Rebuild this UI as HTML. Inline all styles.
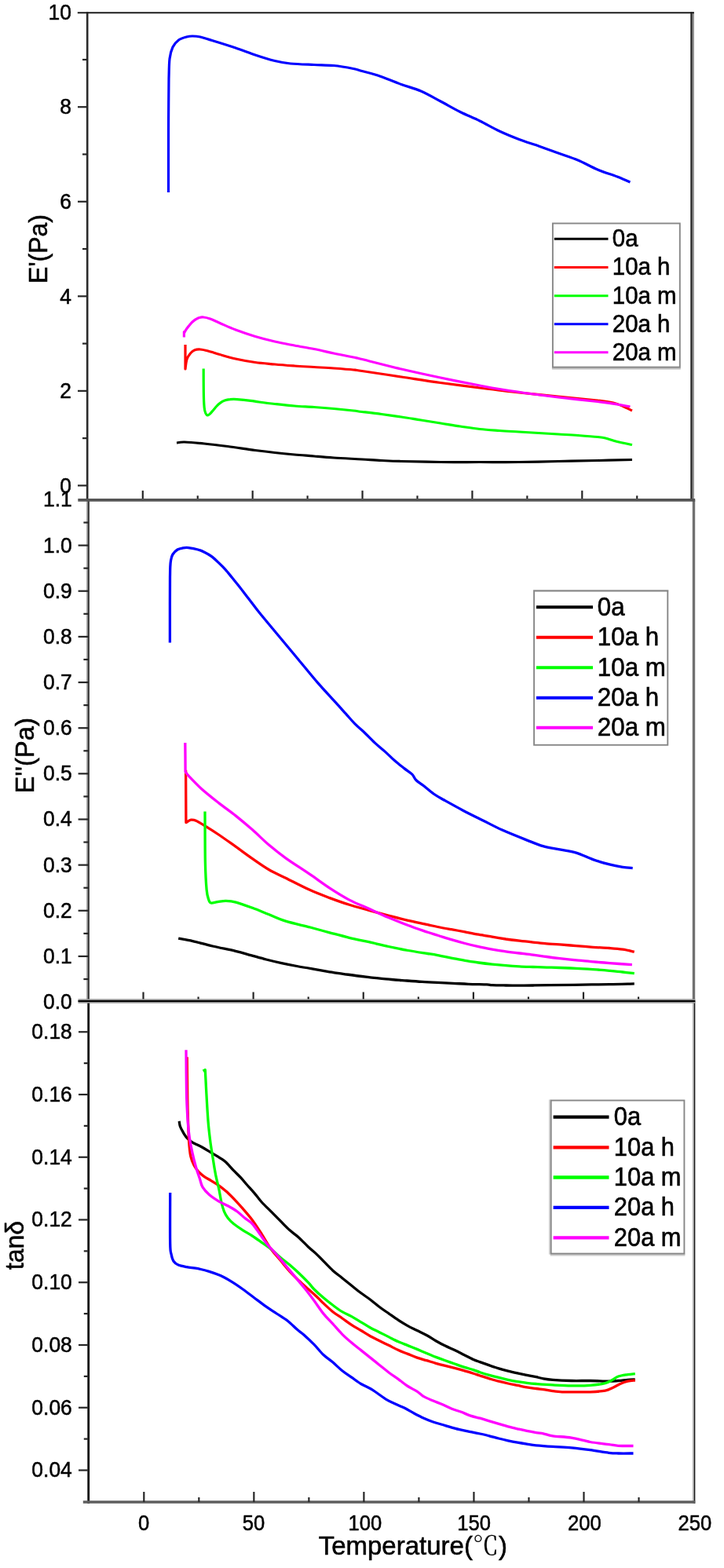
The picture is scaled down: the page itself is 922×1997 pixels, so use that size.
<!DOCTYPE html>
<html lang="en"><head><meta charset="utf-8"><title>DMA curves</title>
<style>html,body{margin:0;padding:0;background:#fff}svg{display:block}</style></head>
<body>
<svg width="922" height="1997" viewBox="0 0 922 1997" font-family="'Liberation Sans', 'Noto Sans CJK SC', sans-serif" fill="#000">
<rect width="922" height="1997" fill="#fff"/>
<path d="M225.0,564.0C226.7,563.8 229.2,562.8 235.0,563.0C240.8,563.2 250.8,564.1 260.0,565.0C269.2,565.9 279.2,567.1 290.0,568.5C300.8,569.9 315.0,572.2 325.0,573.5C335.0,574.8 341.7,575.6 350.0,576.5C358.3,577.4 366.7,578.2 375.0,579.0C383.3,579.8 391.7,580.3 400.0,581.0C408.3,581.7 414.8,582.3 425.0,583.0C435.2,583.7 450.8,584.4 461.0,585.0C471.2,585.6 477.7,586.1 486.0,586.5C494.3,586.9 498.5,587.2 511.0,587.5C523.5,587.8 544.3,588.3 561.0,588.5C577.7,588.7 594.3,588.5 611.0,588.5C627.7,588.5 644.3,588.7 661.0,588.5C677.7,588.3 694.3,587.8 711.0,587.5C727.7,587.2 745.3,586.8 761.0,586.5C776.7,586.2 797.7,585.7 805.0,585.5" fill="none" stroke="#000000" stroke-width="3.2" stroke-linejoin="round" stroke-linecap="butt"/>
<path d="M236.0,439.0C236.0,444.2 236.0,464.8 236.0,470.0L236.0,470.0C236.3,467.9 236.9,460.8 238.0,457.5C239.1,454.2 240.9,451.9 242.5,450.0C244.1,448.1 245.4,446.8 247.5,446.0C249.6,445.2 252.1,444.8 255.0,445.0C257.9,445.2 260.8,445.9 265.0,447.0C269.2,448.1 274.2,449.8 280.0,451.5C285.8,453.2 292.5,455.3 300.0,457.0C307.5,458.7 316.7,460.3 325.0,461.5C333.3,462.7 341.7,463.2 350.0,464.0C358.3,464.8 366.7,465.4 375.0,466.0C383.3,466.6 391.7,467.0 400.0,467.5C408.3,468.0 416.7,468.4 425.0,469.0C433.3,469.6 444.0,470.4 450.0,471.0C456.0,471.6 450.8,471.0 461.0,472.5C471.2,474.0 494.3,477.5 511.0,480.0C527.7,482.5 544.3,485.2 561.0,487.5C577.7,489.8 594.3,491.9 611.0,494.0C627.7,496.1 644.3,498.2 661.0,500.0C677.7,501.8 694.3,503.3 711.0,505.0C727.7,506.7 749.3,508.7 761.0,510.0C772.7,511.3 775.6,511.8 781.0,513.0C786.4,514.2 789.5,515.8 793.5,517.5C797.5,519.2 803.1,522.1 805.0,523.0" fill="none" stroke="#ff0000" stroke-width="3.2" stroke-linejoin="round" stroke-linecap="butt"/>
<path d="M259.2,469.5C259.2,473.8 259.2,487.9 259.3,495.0C259.4,502.1 259.4,507.3 259.7,512.0C259.9,516.7 260.2,520.2 260.8,523.0C261.4,525.8 262.4,527.8 263.3,528.6C264.2,529.4 265.1,528.8 266.3,528.0C267.5,527.2 268.9,525.4 270.5,523.6C272.1,521.9 274.0,519.3 275.7,517.5C277.4,515.7 279.1,514.1 280.9,512.9C282.6,511.7 284.2,510.8 286.2,510.1C288.2,509.4 290.5,508.9 293.1,508.7C295.7,508.4 297.5,508.3 301.8,508.6C306.1,508.9 314.4,509.7 319.1,510.3C323.8,510.9 324.9,511.3 330.0,512.0C335.1,512.7 342.5,513.7 350.0,514.5C357.5,515.3 366.7,516.3 375.0,517.0C383.3,517.7 391.7,517.9 400.0,518.5C408.3,519.1 416.7,519.8 425.0,520.5C433.3,521.2 444.0,522.3 450.0,523.0C456.0,523.7 455.0,523.8 461.0,524.5C467.0,525.2 477.7,526.4 486.0,527.5C494.3,528.6 502.7,529.8 511.0,531.0C519.3,532.2 527.7,533.7 536.0,535.0C544.3,536.3 552.7,537.7 561.0,539.0C569.3,540.3 577.7,541.8 586.0,543.0C594.3,544.2 602.7,545.6 611.0,546.5C619.3,547.4 627.7,547.9 636.0,548.5C644.3,549.1 652.7,549.5 661.0,550.0C669.3,550.5 677.7,551.0 686.0,551.5C694.3,552.0 702.7,552.5 711.0,553.0C719.3,553.5 727.7,553.9 736.0,554.5C744.3,555.1 755.2,555.9 761.0,556.5C766.8,557.1 766.8,557.0 771.0,558.0C775.2,559.0 780.3,561.1 786.0,562.5C791.7,563.9 801.8,565.8 805.0,566.5" fill="none" stroke="#00ff00" stroke-width="3.2" stroke-linejoin="round" stroke-linecap="butt"/>
<path d="M214.5,245.0C214.5,237.5 214.5,215.8 214.5,200.0C214.5,184.2 214.5,166.7 214.6,150.0C214.7,133.3 214.9,108.3 215.0,100.0L215.0,100.0C215.2,95.8 215.2,81.7 216.0,75.0C216.8,68.3 218.1,64.0 220.0,60.0C221.9,56.0 224.6,53.2 227.5,51.0C230.4,48.8 234.6,47.8 237.5,47.0C240.4,46.2 242.1,46.0 245.0,46.0C247.9,46.0 250.8,46.1 255.0,47.0C259.2,47.9 262.5,49.2 270.0,51.5C277.5,53.8 290.8,57.9 300.0,61.0C309.2,64.1 316.7,67.2 325.0,70.0C333.3,72.8 342.5,75.7 350.0,77.5C357.5,79.3 361.7,80.2 370.0,81.0C378.3,81.8 390.8,82.1 400.0,82.5C409.2,82.9 416.7,82.7 425.0,83.5C433.3,84.3 444.0,86.3 450.0,87.5C456.0,88.7 455.8,89.1 461.0,90.5C466.2,91.9 472.7,93.2 481.0,96.0C489.3,98.8 501.8,104.2 511.0,107.5C520.2,110.8 527.7,112.4 536.0,116.0C544.3,119.6 552.7,124.6 561.0,129.0C569.3,133.4 577.7,138.3 586.0,142.5C594.3,146.7 602.7,149.9 611.0,154.0C619.3,158.1 627.7,163.1 636.0,167.0C644.3,170.9 652.7,174.3 661.0,177.5C669.3,180.7 677.7,183.1 686.0,186.0C694.3,188.9 702.7,192.0 711.0,195.0C719.3,198.0 727.7,200.5 736.0,204.0C744.3,207.5 752.7,212.5 761.0,216.0C769.3,219.5 779.1,222.3 786.0,225.0C792.9,227.7 799.8,230.8 802.5,232.0" fill="none" stroke="#0000ff" stroke-width="3.2" stroke-linejoin="round" stroke-linecap="butt"/>
<path d="M234.4,429.5C234.4,428.3 234.4,423.7 234.4,422.5L234.4,424.5C234.9,423.6 235.7,421.4 237.5,419.0C239.3,416.6 242.5,412.3 245.0,410.0C247.5,407.7 250.2,406.0 252.5,405.0C254.8,404.0 256.5,403.8 259.0,404.0C261.5,404.2 264.0,404.8 267.5,406.0C271.0,407.2 274.6,409.2 280.0,411.5C285.4,413.8 292.5,417.2 300.0,420.0C307.5,422.8 316.7,426.0 325.0,428.5C333.3,431.0 341.7,433.1 350.0,435.0C358.3,436.9 366.7,438.4 375.0,440.0C383.3,441.6 391.7,442.8 400.0,444.5C408.3,446.2 416.7,448.2 425.0,450.0C433.3,451.8 444.0,453.8 450.0,455.0C456.0,456.2 450.8,455.0 461.0,457.5C471.2,460.0 494.3,466.1 511.0,470.0C527.7,473.9 544.3,477.5 561.0,481.0C577.7,484.5 598.5,488.6 611.0,491.0C623.5,493.4 625.2,493.8 636.0,495.5C646.8,497.2 663.5,499.8 676.0,501.5C688.5,503.2 696.8,504.3 711.0,506.0C725.2,507.7 748.5,510.0 761.0,511.5C773.5,513.0 779.1,513.9 786.0,515.0C792.9,516.1 799.8,517.5 802.5,518.0" fill="none" stroke="#ff00ff" stroke-width="3.2" stroke-linejoin="round" stroke-linecap="butt"/>
<path d="M227.2,1195.2C230.2,1195.8 238.2,1197.0 245.4,1198.6C252.7,1200.2 261.6,1202.9 270.7,1205.0C279.8,1207.1 291.9,1209.4 300.0,1211.3C308.1,1213.2 313.0,1214.8 319.5,1216.6C326.0,1218.4 332.5,1220.3 339.0,1222.0C345.5,1223.7 352.1,1225.2 358.6,1226.6C365.1,1228.0 371.6,1229.3 378.1,1230.5C384.6,1231.7 391.1,1232.8 397.6,1233.9C404.1,1235.0 410.6,1236.2 417.1,1237.3C423.6,1238.4 430.2,1239.3 436.7,1240.3C443.2,1241.2 450.6,1242.3 456.2,1243.0C461.8,1243.7 462.9,1243.8 470.0,1244.6C477.1,1245.3 490.6,1246.8 498.6,1247.5C506.6,1248.2 511.6,1248.5 518.1,1249.0C524.6,1249.5 531.1,1250.0 537.6,1250.4C544.1,1250.8 550.6,1251.1 557.1,1251.4C563.6,1251.7 570.2,1252.0 576.7,1252.3C583.2,1252.6 589.0,1253.0 596.2,1253.3C603.4,1253.6 614.9,1253.7 620.0,1253.9C625.1,1254.1 622.7,1254.4 626.8,1254.6C630.8,1254.8 638.3,1254.9 644.1,1255.0C649.9,1255.0 655.7,1255.1 661.5,1255.1C667.3,1255.1 672.4,1255.0 678.8,1255.0C685.2,1254.9 691.3,1254.8 700.0,1254.7C708.7,1254.6 718.2,1254.5 730.9,1254.3C743.6,1254.1 763.3,1253.8 776.1,1253.6C788.9,1253.4 802.5,1252.9 807.8,1252.8" fill="none" stroke="#000000" stroke-width="3.3" stroke-linejoin="round" stroke-linecap="butt"/>
<path d="M236.6,980.8C236.7,991.9 236.8,1036.5 236.9,1047.6L236.9,1047.6C237.9,1047.0 241.1,1044.6 243.2,1044.2C245.3,1043.8 246.4,1043.9 249.6,1045.3C252.8,1046.7 257.4,1049.6 262.3,1052.6C267.2,1055.6 272.9,1059.2 279.2,1063.5C285.5,1067.8 293.3,1073.4 300.4,1078.4C307.4,1083.4 314.4,1088.7 321.5,1093.6C328.6,1098.5 335.6,1103.6 342.7,1107.7C349.8,1111.8 355.1,1113.9 363.8,1118.2C372.5,1122.5 385.6,1129.4 394.9,1133.6C404.3,1137.9 411.6,1140.5 419.9,1143.6C428.2,1146.7 436.5,1149.7 444.8,1152.3C453.2,1155.0 461.5,1157.0 469.8,1159.3C478.1,1161.6 486.4,1163.9 494.7,1166.1C503.0,1168.2 511.4,1170.4 519.7,1172.3C528.0,1174.2 538.3,1176.2 544.6,1177.6C550.9,1179.0 552.3,1179.5 557.4,1180.5C562.4,1181.5 568.9,1182.6 574.7,1183.6C580.5,1184.7 586.3,1185.8 592.1,1186.9C597.8,1188.0 603.6,1189.2 609.4,1190.2C615.2,1191.3 621.0,1192.2 626.8,1193.2C632.6,1194.1 638.3,1195.1 644.1,1196.0C649.9,1196.8 655.7,1197.5 661.5,1198.2C667.3,1198.9 673.0,1199.5 678.8,1200.1C684.6,1200.7 690.5,1201.4 696.2,1201.9C701.8,1202.3 706.4,1202.4 712.7,1202.9C719.0,1203.4 726.8,1204.0 733.8,1204.6C740.8,1205.2 748.0,1205.8 755.0,1206.3C762.0,1206.8 769.8,1207.0 776.1,1207.5C782.4,1208.0 787.7,1208.4 793.0,1209.2C798.3,1210.0 805.3,1211.7 807.8,1212.2" fill="none" stroke="#ff0000" stroke-width="3.3" stroke-linejoin="round" stroke-linecap="butt"/>
<path d="M261.0,1033.6C261.1,1044.5 261.0,1082.6 261.4,1099.2C261.8,1115.8 262.4,1125.2 263.1,1133.0C263.8,1140.8 264.8,1142.9 265.7,1145.7C266.6,1148.5 266.7,1149.5 268.6,1150.0C270.5,1150.5 273.9,1149.1 277.1,1148.7C280.3,1148.3 283.8,1147.3 287.7,1147.4C291.6,1147.5 294.8,1147.6 300.4,1149.1C306.0,1150.6 314.4,1153.7 321.5,1156.3C328.6,1158.9 335.6,1162.0 342.7,1164.8C349.8,1167.6 355.1,1170.5 363.8,1173.2C372.5,1175.9 385.6,1178.6 394.9,1181.0C404.3,1183.5 411.6,1185.6 419.9,1187.8C428.2,1190.0 436.5,1192.3 444.8,1194.3C453.2,1196.2 461.5,1197.9 469.8,1199.7C478.1,1201.6 486.4,1203.7 494.7,1205.5C503.0,1207.3 511.4,1209.0 519.7,1210.5C528.0,1212.0 538.3,1213.5 544.6,1214.5C550.9,1215.5 552.3,1215.7 557.4,1216.6C562.4,1217.5 568.9,1219.0 574.7,1220.1C580.5,1221.2 586.3,1222.4 592.1,1223.4C597.8,1224.4 603.6,1225.2 609.4,1226.0C615.2,1226.8 621.0,1227.5 626.8,1228.1C632.6,1228.7 638.3,1229.2 644.1,1229.6C649.9,1230.1 655.7,1230.5 661.5,1230.8C667.3,1231.2 673.0,1231.3 678.8,1231.5C684.6,1231.7 690.5,1231.9 696.2,1232.1C701.8,1232.2 706.4,1232.3 712.7,1232.5C719.0,1232.7 726.8,1233.0 733.8,1233.3C740.8,1233.6 748.0,1234.1 755.0,1234.6C762.0,1235.1 769.8,1235.7 776.1,1236.3C782.4,1236.9 787.7,1237.4 793.0,1238.0C798.3,1238.6 805.3,1239.4 807.8,1239.7" fill="none" stroke="#00ff00" stroke-width="3.3" stroke-linejoin="round" stroke-linecap="butt"/>
<path d="M216.4,818.5C216.4,810.4 216.4,783.9 216.4,770.0C216.4,756.1 216.5,740.8 216.5,735.0L216.5,735.0C216.6,732.8 216.6,725.6 216.8,722.0C217.0,718.4 217.1,716.2 217.6,713.5C218.1,710.8 218.6,708.2 220.0,706.0C221.4,703.8 223.8,701.4 226.0,700.0C228.2,698.6 230.7,698.3 233.0,697.9C235.3,697.5 236.7,697.2 239.9,697.6C243.1,698.0 248.6,699.0 252.1,700.0C255.6,701.0 257.8,702.0 260.7,703.4C263.6,704.8 266.5,706.4 269.4,708.6C272.3,710.8 275.2,713.6 278.1,716.4C281.0,719.1 283.9,721.9 286.8,725.1C289.7,728.3 292.4,731.8 295.4,735.5C298.4,739.2 301.2,742.5 304.9,747.2C308.6,751.9 313.2,758.1 317.4,763.5C321.6,768.9 323.7,772.1 329.9,779.8C336.1,787.5 346.5,799.8 354.8,809.8C363.1,819.8 371.5,829.7 379.8,839.7C388.1,849.7 396.4,860.1 404.7,869.7C413.0,879.3 423.7,890.5 429.7,897.1C435.7,903.7 436.7,905.0 440.5,909.2C444.3,913.4 448.4,918.3 452.5,922.4C456.6,926.5 460.8,929.8 464.9,933.7C469.0,937.7 473.2,942.2 477.4,946.1C481.6,950.0 485.7,953.1 489.9,956.9C494.1,960.6 498.2,965.0 502.4,968.6C506.5,972.2 511.1,975.7 514.8,978.6C518.5,981.5 522.3,983.6 524.8,986.1C527.3,988.6 527.3,991.0 529.8,993.5C532.3,996.0 536.1,998.1 539.8,1001.0C543.5,1003.9 548.1,1008.1 552.2,1011.0C556.4,1013.9 558.5,1015.0 564.7,1018.5C571.0,1022.0 581.4,1027.8 589.7,1032.2C598.0,1036.6 606.3,1040.6 614.6,1044.7C622.9,1048.8 630.3,1052.9 639.5,1057.1C648.7,1061.2 661.3,1066.2 670.0,1069.6C678.7,1073.0 684.4,1075.7 691.5,1077.7C698.6,1079.8 705.7,1080.5 712.7,1081.9C719.8,1083.3 726.8,1084.0 733.8,1086.1C740.8,1088.2 748.0,1092.1 755.0,1094.6C762.0,1097.1 769.8,1099.3 776.1,1100.9C782.4,1102.5 788.1,1103.5 793.0,1104.3C797.9,1105.1 803.6,1105.4 805.7,1105.6" fill="none" stroke="#0000ff" stroke-width="3.3" stroke-linejoin="round" stroke-linecap="butt"/>
<path d="M235.8,946.1C235.9,952.2 236.1,976.8 236.1,982.9L236.1,982.9C236.9,984.0 237.4,985.3 241.1,989.2C244.8,993.1 251.8,1000.5 258.1,1006.1C264.5,1011.8 272.1,1017.6 279.2,1023.1C286.2,1028.6 293.3,1033.5 300.4,1039.1C307.4,1044.7 314.4,1050.6 321.5,1056.8C328.6,1063.0 335.6,1070.3 342.7,1076.3C349.8,1082.3 355.1,1086.6 363.8,1092.8C372.5,1099.0 385.6,1107.3 394.9,1113.7C404.3,1120.1 411.6,1125.7 419.9,1131.1C428.2,1136.5 436.5,1141.7 444.8,1146.1C453.2,1150.5 461.5,1153.6 469.8,1157.3C478.1,1161.1 486.4,1165.0 494.7,1168.6C503.0,1172.1 511.4,1175.4 519.7,1178.5C528.0,1181.7 538.3,1185.1 544.6,1187.3C550.9,1189.4 552.3,1189.7 557.4,1191.3C562.4,1192.8 568.9,1195.0 574.7,1196.7C580.5,1198.4 586.3,1200.0 592.1,1201.5C597.8,1203.0 603.6,1204.4 609.4,1205.7C615.2,1207.0 621.0,1208.1 626.8,1209.2C632.6,1210.2 638.3,1210.9 644.1,1211.8C649.9,1212.6 655.7,1213.3 661.5,1214.0C667.3,1214.7 673.0,1215.3 678.8,1216.1C684.6,1216.8 690.5,1217.8 696.2,1218.5C701.8,1219.3 706.4,1219.9 712.7,1220.6C719.0,1221.3 726.8,1222.1 733.8,1222.8C740.8,1223.5 748.0,1224.3 755.0,1224.9C762.0,1225.5 767.8,1226.0 776.1,1226.6C784.4,1227.2 800.1,1228.3 804.9,1228.7" fill="none" stroke="#ff00ff" stroke-width="3.3" stroke-linejoin="round" stroke-linecap="butt"/>
<path d="M228.2,1427.9C228.4,1429.0 228.6,1432.2 229.4,1434.5C230.2,1436.8 231.6,1439.3 233.0,1441.7C234.4,1444.1 235.7,1446.6 237.7,1448.8C239.7,1451.0 241.7,1452.8 244.9,1454.8C248.1,1456.8 252.8,1458.6 256.8,1460.8C260.8,1463.0 264.7,1465.5 268.7,1467.9C272.7,1470.3 277.5,1473.0 280.7,1475.1C283.9,1477.2 285.0,1477.7 287.8,1480.3C290.6,1482.9 294.2,1487.3 297.4,1490.6C300.6,1493.9 304.1,1497.1 306.9,1500.1C309.7,1503.1 311.3,1505.3 314.1,1508.5C316.9,1511.7 320.4,1515.3 323.6,1519.1C326.8,1522.8 329.6,1527.0 333.2,1531.0C336.8,1535.0 341.1,1538.9 345.1,1542.9C349.1,1546.9 353.0,1550.9 357.0,1554.9C361.0,1558.9 365.0,1563.2 369.0,1566.8C373.0,1570.4 376.9,1572.8 380.9,1576.4C384.9,1580.0 389.2,1584.9 392.8,1588.3C396.4,1591.7 399.2,1593.6 402.4,1596.6C405.6,1599.6 408.3,1602.6 411.9,1606.2C415.5,1609.8 419.9,1614.6 423.9,1618.2C427.9,1621.8 431.8,1624.5 435.8,1627.7C439.8,1630.9 443.7,1634.1 447.7,1637.3C451.7,1640.5 455.7,1643.8 459.7,1646.8C463.7,1649.8 467.6,1652.2 471.6,1655.2C475.6,1658.2 479.5,1661.7 483.5,1664.7C487.5,1667.7 491.4,1670.3 495.4,1673.1C499.4,1675.9 503.4,1678.8 507.4,1681.4C511.4,1684.0 515.3,1686.4 519.3,1688.6C523.3,1690.8 527.2,1692.5 531.2,1694.5C535.2,1696.5 539.2,1698.3 543.2,1700.5C547.2,1702.7 551.1,1705.4 555.1,1707.7C559.1,1710.0 563.0,1712.1 567.0,1714.1C571.0,1716.1 575.0,1717.7 579.0,1719.6C583.0,1721.5 586.9,1723.5 590.9,1725.5C594.9,1727.5 599.4,1730.0 602.8,1731.5C606.2,1733.0 607.8,1733.4 611.2,1734.6C614.6,1735.8 619.2,1737.5 623.2,1738.9C627.2,1740.3 631.1,1741.7 635.1,1742.9C639.1,1744.1 643.0,1745.1 647.0,1746.1C651.0,1747.1 655.0,1748.0 659.0,1748.9C663.0,1749.8 666.9,1750.5 670.9,1751.3C674.9,1752.1 679.3,1753.0 682.8,1753.7C686.3,1754.5 688.5,1755.2 692.0,1755.8C695.5,1756.4 697.9,1756.8 703.9,1757.3C709.9,1757.8 719.8,1758.3 727.7,1758.5C735.7,1758.7 743.7,1758.4 751.6,1758.5C759.5,1758.6 769.4,1759.2 775.4,1759.2C781.4,1759.2 783.4,1758.8 787.4,1758.5C791.4,1758.2 795.7,1757.6 799.3,1757.3C802.9,1757.0 807.2,1756.9 808.8,1756.8" fill="none" stroke="#000000" stroke-width="3.3" stroke-linejoin="round" stroke-linecap="butt"/>
<path d="M238.2,1346.2C238.3,1355.2 238.6,1386.0 238.8,1400.0C239.0,1414.0 239.3,1421.1 239.6,1430.0C239.9,1438.9 240.1,1446.5 240.6,1453.6C241.1,1460.7 241.7,1467.5 242.8,1472.7C243.9,1477.9 245.7,1481.4 247.3,1484.6C248.9,1487.8 250.5,1489.6 252.5,1491.8C254.5,1494.0 256.5,1495.8 259.2,1497.8C261.9,1499.8 265.1,1501.5 268.7,1503.7C272.3,1506.0 277.1,1508.7 280.7,1511.3C284.3,1513.9 287.4,1516.7 290.2,1519.2C293.0,1521.7 294.2,1523.0 297.4,1526.4C300.6,1529.8 305.3,1534.9 309.3,1539.4C313.3,1544.0 317.2,1548.3 321.2,1553.7C325.2,1559.1 329.2,1565.4 333.2,1571.6C337.2,1577.8 341.1,1585.1 345.1,1590.7C349.1,1596.3 353.0,1600.2 357.0,1605.0C361.0,1609.8 365.0,1614.9 369.0,1619.3C373.0,1623.7 376.9,1627.4 380.9,1631.2C384.9,1635.0 388.8,1638.4 392.8,1642.0C396.8,1645.6 401.5,1649.7 404.7,1652.7C407.9,1655.7 408.7,1656.9 411.9,1659.9C415.1,1662.9 419.9,1667.5 423.9,1670.7C427.9,1673.9 431.8,1676.2 435.8,1679.0C439.8,1681.8 443.7,1684.8 447.7,1687.4C451.7,1690.0 455.7,1692.1 459.7,1694.5C463.7,1696.9 467.6,1699.5 471.6,1701.7C475.6,1703.9 479.5,1705.7 483.5,1707.7C487.5,1709.7 491.4,1711.6 495.4,1713.6C499.4,1715.6 503.4,1717.8 507.4,1719.6C511.4,1721.4 515.3,1722.8 519.3,1724.4C523.3,1726.0 527.2,1727.7 531.2,1729.1C535.2,1730.5 539.2,1731.5 543.2,1732.7C547.2,1733.9 551.1,1735.2 555.1,1736.3C559.1,1737.4 563.0,1738.4 567.0,1739.4C571.0,1740.4 575.0,1741.3 579.0,1742.3C583.0,1743.3 586.9,1744.4 590.9,1745.6C594.9,1746.8 599.4,1748.1 602.8,1749.2C606.2,1750.3 607.8,1750.9 611.2,1752.0C614.6,1753.1 619.2,1754.6 623.2,1755.8C627.2,1757.0 631.1,1758.2 635.1,1759.2C639.1,1760.2 643.0,1761.1 647.0,1762.0C651.0,1762.9 655.0,1763.6 659.0,1764.4C663.0,1765.2 666.9,1766.1 670.9,1766.8C674.9,1767.5 679.3,1768.0 682.8,1768.5C686.3,1769.0 688.4,1769.2 691.9,1769.7C695.4,1770.2 699.9,1771.1 703.9,1771.6C707.9,1772.1 711.8,1772.6 715.8,1772.8C719.8,1773.0 721.7,1772.8 727.7,1772.8C733.7,1772.8 744.4,1773.1 751.6,1772.8C758.8,1772.5 765.9,1772.0 770.7,1771.1C775.5,1770.2 777.0,1768.9 780.2,1767.5C783.4,1766.1 786.6,1763.9 789.8,1762.5C793.0,1761.1 796.1,1760.0 799.3,1759.2C802.5,1758.5 807.2,1758.2 808.8,1758.0" fill="none" stroke="#ff0000" stroke-width="3.3" stroke-linejoin="round" stroke-linecap="butt"/>
<path d="M258.5,1364.0C258.9,1363.8 260.7,1362.8 261.1,1362.5L261.3,1362.5C261.6,1367.3 262.2,1380.8 262.8,1391.6C263.4,1402.4 264.2,1417.1 265.0,1427.4C265.8,1437.7 266.8,1445.6 267.8,1453.6C268.8,1461.5 270.0,1467.9 271.1,1475.1C272.2,1482.3 273.4,1490.1 274.7,1496.6C276.0,1503.1 277.6,1508.6 278.8,1514.3C280.0,1520.0 280.8,1526.2 281.9,1531.0C283.0,1535.8 284.0,1539.5 285.4,1542.9C286.8,1546.3 288.2,1548.7 290.2,1551.3C292.2,1553.9 294.2,1555.9 297.4,1558.5C300.6,1561.1 305.3,1564.2 309.3,1566.8C313.3,1569.4 317.2,1571.4 321.2,1574.0C325.2,1576.6 329.2,1579.5 333.2,1582.3C337.2,1585.1 341.1,1587.5 345.1,1590.7C349.1,1593.9 353.0,1598.0 357.0,1601.4C361.0,1604.8 365.0,1607.6 369.0,1611.0C373.0,1614.4 376.9,1617.9 380.9,1621.7C384.9,1625.5 389.6,1630.2 392.8,1633.6C396.0,1637.0 396.8,1638.8 400.0,1642.0C403.2,1645.2 407.9,1649.4 411.9,1652.8C415.9,1656.2 419.9,1659.3 423.9,1662.3C427.9,1665.3 431.8,1668.3 435.8,1670.7C439.8,1673.1 443.7,1674.4 447.7,1676.6C451.7,1678.8 455.7,1681.4 459.7,1683.8C463.7,1686.2 467.6,1688.8 471.6,1691.0C475.6,1693.2 479.5,1694.9 483.5,1696.9C487.5,1698.9 491.4,1700.9 495.4,1702.9C499.4,1704.9 503.4,1707.0 507.4,1708.8C511.4,1710.6 515.3,1712.0 519.3,1713.6C523.3,1715.2 527.2,1716.8 531.2,1718.4C535.2,1720.1 539.2,1721.8 543.2,1723.5C547.2,1725.2 551.1,1726.9 555.1,1728.4C559.1,1729.9 563.0,1731.3 567.0,1732.7C571.0,1734.1 575.0,1735.6 579.0,1737.0C583.0,1738.4 586.9,1739.8 590.9,1741.1C594.9,1742.4 599.4,1743.5 602.8,1744.6C606.2,1745.7 607.8,1746.6 611.2,1747.7C614.6,1748.8 619.2,1750.2 623.2,1751.3C627.2,1752.4 631.1,1753.4 635.1,1754.4C639.1,1755.4 643.0,1756.4 647.0,1757.3C651.0,1758.2 655.0,1759.0 659.0,1759.7C663.0,1760.4 666.9,1760.8 670.9,1761.3C674.9,1761.8 677.3,1762.1 682.8,1762.5C688.3,1762.9 696.4,1763.5 703.9,1763.9C711.4,1764.3 719.8,1764.8 727.7,1764.9C735.7,1765.0 744.4,1765.0 751.6,1764.4C758.8,1763.9 765.9,1762.8 770.7,1761.6C775.5,1760.4 777.4,1758.7 780.2,1757.3C783.0,1755.9 784.2,1754.1 787.4,1753.0C790.6,1751.9 795.7,1751.2 799.3,1750.6C802.9,1750.0 807.2,1749.8 808.8,1749.6" fill="none" stroke="#00ff00" stroke-width="3.3" stroke-linejoin="round" stroke-linecap="butt"/>
<path d="M216.7,1519.1C216.7,1529.8 216.4,1570.4 216.7,1583.5C216.9,1596.6 217.5,1594.0 218.2,1597.8C218.9,1601.6 219.5,1604.0 221.0,1606.2C222.5,1608.4 224.2,1609.8 227.0,1611.0C229.8,1612.2 233.5,1612.8 237.7,1613.6C241.9,1614.4 247.2,1614.8 252.0,1615.7C256.8,1616.7 261.6,1617.8 266.4,1619.3C271.2,1620.8 275.9,1622.4 280.7,1624.6C285.5,1626.8 290.2,1629.5 295.0,1632.4C299.8,1635.3 304.5,1638.6 309.3,1642.0C314.1,1645.4 318.8,1649.1 323.6,1652.7C328.4,1656.3 333.1,1660.0 337.9,1663.4C342.7,1666.8 347.5,1669.8 352.3,1673.0C357.1,1676.2 362.2,1679.1 366.6,1682.5C371.0,1685.9 375.1,1690.4 378.5,1693.3C381.9,1696.2 383.3,1696.8 386.9,1700.0C390.5,1703.2 395.8,1708.2 400.0,1712.4C404.2,1716.7 407.9,1721.7 411.9,1725.5C415.9,1729.3 419.9,1731.7 423.9,1735.1C427.9,1738.5 431.8,1742.6 435.8,1745.8C439.8,1749.0 443.7,1751.4 447.7,1754.2C451.7,1757.0 455.7,1760.1 459.7,1762.5C463.7,1764.9 468.2,1766.6 471.6,1768.5C475.0,1770.4 476.6,1771.7 480.0,1774.0C483.4,1776.3 487.9,1779.9 491.9,1782.3C495.9,1784.7 499.9,1786.4 503.9,1788.3C507.9,1790.2 511.8,1791.5 515.8,1793.5C519.8,1795.5 523.7,1798.1 527.7,1800.2C531.7,1802.3 535.7,1804.4 539.7,1806.2C543.7,1808.0 547.6,1809.6 551.6,1811.0C555.6,1812.4 559.5,1813.3 563.5,1814.5C567.5,1815.7 571.4,1817.0 575.4,1818.1C579.4,1819.2 583.4,1820.3 587.4,1821.2C591.4,1822.1 595.3,1822.8 599.3,1823.6C603.3,1824.4 607.2,1825.1 611.2,1826.0C615.2,1826.9 619.2,1827.8 623.2,1828.8C627.2,1829.8 631.1,1831.0 635.1,1832.0C639.1,1833.0 643.0,1833.9 647.0,1834.8C651.0,1835.7 655.0,1836.5 659.0,1837.2C663.0,1837.9 666.9,1838.5 670.9,1839.1C674.9,1839.7 677.3,1840.2 682.8,1840.8C688.3,1841.3 696.4,1841.9 703.9,1842.4C711.4,1842.9 719.8,1843.2 727.7,1843.9C735.7,1844.6 743.7,1845.6 751.6,1846.7C759.5,1847.8 769.4,1849.6 775.4,1850.3C781.4,1851.0 782.2,1850.9 787.4,1851.0C792.6,1851.1 803.3,1851.0 806.5,1851.0" fill="none" stroke="#0000ff" stroke-width="3.3" stroke-linejoin="round" stroke-linecap="butt"/>
<path d="M237.0,1337.2C237.1,1346.3 237.2,1376.6 237.5,1391.6C237.8,1406.6 238.5,1417.9 239.1,1427.4C239.7,1436.9 240.3,1442.0 241.3,1448.8C242.3,1455.5 243.5,1461.5 244.9,1467.9C246.3,1474.3 248.1,1481.4 249.7,1487.0C251.3,1492.6 253.0,1497.1 254.4,1501.3C255.8,1505.5 256.0,1508.5 258.0,1511.9C260.0,1515.3 263.0,1518.5 266.4,1521.5C269.8,1524.5 274.3,1527.4 278.3,1529.8C282.3,1532.2 286.2,1533.6 290.2,1535.8C294.2,1538.0 298.5,1540.4 302.1,1543.0C305.7,1545.6 308.5,1548.7 311.7,1551.3C314.9,1553.9 318.0,1555.1 321.2,1558.5C324.4,1561.9 327.6,1567.2 330.8,1571.6C334.0,1576.0 336.7,1580.3 340.3,1584.7C343.9,1589.1 348.3,1593.2 352.3,1597.8C356.3,1602.4 360.2,1607.4 364.2,1612.2C368.2,1617.0 372.1,1621.7 376.1,1626.5C380.1,1631.3 384.0,1635.8 388.0,1640.8C392.0,1645.8 396.0,1651.1 400.0,1656.5C404.0,1661.9 407.9,1668.1 411.9,1673.1C415.9,1678.0 419.9,1681.8 423.9,1686.2C427.9,1690.6 431.8,1695.3 435.8,1699.3C439.8,1703.3 443.7,1706.6 447.7,1710.0C451.7,1713.4 455.7,1716.4 459.7,1719.6C463.7,1722.8 467.6,1725.9 471.6,1729.1C475.6,1732.3 479.5,1735.5 483.5,1738.7C487.5,1741.9 491.4,1745.2 495.4,1748.2C499.4,1751.2 503.4,1753.7 507.4,1756.6C511.4,1759.5 515.3,1762.9 519.3,1765.5C523.3,1768.1 527.8,1769.9 531.2,1772.1C534.6,1774.3 536.3,1776.7 539.7,1778.7C543.1,1780.7 547.6,1782.3 551.6,1784.0C555.6,1785.7 559.5,1787.1 563.5,1788.8C567.5,1790.5 571.4,1792.6 575.4,1794.2C579.4,1795.8 583.4,1796.8 587.4,1798.3C591.4,1799.8 595.3,1801.8 599.3,1803.1C603.3,1804.4 607.2,1805.1 611.2,1806.2C615.2,1807.3 619.2,1808.6 623.2,1809.8C627.2,1811.0 631.1,1812.1 635.1,1813.3C639.1,1814.5 643.0,1815.8 647.0,1816.9C651.0,1818.0 655.0,1818.9 659.0,1819.8C663.0,1820.7 666.9,1821.6 670.9,1822.4C674.9,1823.2 679.3,1824.0 682.8,1824.6C686.3,1825.2 688.4,1825.1 691.9,1825.8C695.4,1826.5 697.9,1827.9 703.9,1828.8C709.9,1829.7 719.8,1829.9 727.7,1831.2C735.7,1832.5 743.7,1835.1 751.6,1836.5C759.5,1837.9 769.4,1838.8 775.4,1839.6C781.4,1840.4 782.2,1841.0 787.4,1841.3C792.6,1841.6 803.3,1841.5 806.5,1841.5" fill="none" stroke="#ff00ff" stroke-width="3.3" stroke-linejoin="round" stroke-linecap="butt"/>
<line x1="111.20" y1="15.20" x2="111.20" y2="636.80" stroke="#2a2a2a" stroke-width="2.6"/>
<line x1="882.80" y1="15.20" x2="882.80" y2="636.80" stroke="#8e8e8e" stroke-width="2.2"/>
<line x1="880.50" y1="15.20" x2="880.50" y2="636.80" stroke="#262626" stroke-width="2.4"/>
<line x1="98.80" y1="16.20" x2="883.90" y2="16.20" stroke="#1e1e1e" stroke-width="2.0"/>
<line x1="99.00" y1="618.40" x2="111.20" y2="618.40" stroke="#262626" stroke-width="2.2"/>
<line x1="105.00" y1="558.13" x2="111.20" y2="558.13" stroke="#262626" stroke-width="2.2"/>
<line x1="99.00" y1="497.86" x2="111.20" y2="497.86" stroke="#262626" stroke-width="2.2"/>
<line x1="105.00" y1="437.59" x2="111.20" y2="437.59" stroke="#262626" stroke-width="2.2"/>
<line x1="99.00" y1="377.32" x2="111.20" y2="377.32" stroke="#262626" stroke-width="2.2"/>
<line x1="105.00" y1="317.05" x2="111.20" y2="317.05" stroke="#262626" stroke-width="2.2"/>
<line x1="99.00" y1="256.78" x2="111.20" y2="256.78" stroke="#262626" stroke-width="2.2"/>
<line x1="105.00" y1="196.51" x2="111.20" y2="196.51" stroke="#262626" stroke-width="2.2"/>
<line x1="99.00" y1="136.24" x2="111.20" y2="136.24" stroke="#262626" stroke-width="2.2"/>
<line x1="105.00" y1="75.97" x2="111.20" y2="75.97" stroke="#262626" stroke-width="2.2"/>
<text transform="translate(91.0,627.6) scale(0.935,1)" font-size="28.3" text-anchor="end" stroke="#000" stroke-width="0.55" xml:space="preserve">0</text>
<text transform="translate(91.0,507.0) scale(0.935,1)" font-size="28.3" text-anchor="end" stroke="#000" stroke-width="0.55" xml:space="preserve">2</text>
<text transform="translate(91.0,386.5) scale(0.935,1)" font-size="28.3" text-anchor="end" stroke="#000" stroke-width="0.55" xml:space="preserve">4</text>
<text transform="translate(91.0,265.9) scale(0.935,1)" font-size="28.3" text-anchor="end" stroke="#000" stroke-width="0.55" xml:space="preserve">6</text>
<text transform="translate(91.0,145.4) scale(0.935,1)" font-size="28.3" text-anchor="end" stroke="#000" stroke-width="0.55" xml:space="preserve">8</text>
<text transform="translate(91.0,24.9) scale(0.935,1)" font-size="28.3" text-anchor="end" stroke="#000" stroke-width="0.55" xml:space="preserve">10</text>
<line x1="181.80" y1="624.80" x2="181.80" y2="636.80" stroke="#262626" stroke-width="2.2"/>
<line x1="251.74" y1="631.30" x2="251.74" y2="636.80" stroke="#262626" stroke-width="2.2"/>
<line x1="321.68" y1="624.80" x2="321.68" y2="636.80" stroke="#262626" stroke-width="2.2"/>
<line x1="391.61" y1="631.30" x2="391.61" y2="636.80" stroke="#262626" stroke-width="2.2"/>
<line x1="461.55" y1="624.80" x2="461.55" y2="636.80" stroke="#262626" stroke-width="2.2"/>
<line x1="531.49" y1="631.30" x2="531.49" y2="636.80" stroke="#262626" stroke-width="2.2"/>
<line x1="601.42" y1="624.80" x2="601.42" y2="636.80" stroke="#262626" stroke-width="2.2"/>
<line x1="671.36" y1="631.30" x2="671.36" y2="636.80" stroke="#262626" stroke-width="2.2"/>
<line x1="741.30" y1="624.80" x2="741.30" y2="636.80" stroke="#262626" stroke-width="2.2"/>
<line x1="811.24" y1="631.30" x2="811.24" y2="636.80" stroke="#262626" stroke-width="2.2"/>
<line x1="110.70" y1="636.80" x2="110.70" y2="1275.00" stroke="#b0b0b0" stroke-width="1.5"/>
<line x1="112.70" y1="636.80" x2="112.70" y2="1275.00" stroke="#383838" stroke-width="2.4"/>
<line x1="883.50" y1="636.80" x2="883.50" y2="1275.00" stroke="#717171" stroke-width="3.4"/>
<line x1="99.30" y1="636.90" x2="885.20" y2="636.90" stroke="#555555" stroke-width="3.6"/>
<line x1="106.40" y1="1247.02" x2="112.60" y2="1247.02" stroke="#262626" stroke-width="2.2"/>
<line x1="99.60" y1="1217.95" x2="112.60" y2="1217.95" stroke="#262626" stroke-width="2.2"/>
<line x1="106.40" y1="1188.88" x2="112.60" y2="1188.88" stroke="#262626" stroke-width="2.2"/>
<line x1="99.60" y1="1159.80" x2="112.60" y2="1159.80" stroke="#262626" stroke-width="2.2"/>
<line x1="106.40" y1="1130.72" x2="112.60" y2="1130.72" stroke="#262626" stroke-width="2.2"/>
<line x1="99.60" y1="1101.65" x2="112.60" y2="1101.65" stroke="#262626" stroke-width="2.2"/>
<line x1="106.40" y1="1072.57" x2="112.60" y2="1072.57" stroke="#262626" stroke-width="2.2"/>
<line x1="99.60" y1="1043.50" x2="112.60" y2="1043.50" stroke="#262626" stroke-width="2.2"/>
<line x1="106.40" y1="1014.42" x2="112.60" y2="1014.42" stroke="#262626" stroke-width="2.2"/>
<line x1="99.60" y1="985.35" x2="112.60" y2="985.35" stroke="#262626" stroke-width="2.2"/>
<line x1="106.40" y1="956.27" x2="112.60" y2="956.27" stroke="#262626" stroke-width="2.2"/>
<line x1="99.60" y1="927.20" x2="112.60" y2="927.20" stroke="#262626" stroke-width="2.2"/>
<line x1="106.40" y1="898.12" x2="112.60" y2="898.12" stroke="#262626" stroke-width="2.2"/>
<line x1="99.60" y1="869.05" x2="112.60" y2="869.05" stroke="#262626" stroke-width="2.2"/>
<line x1="106.40" y1="839.97" x2="112.60" y2="839.97" stroke="#262626" stroke-width="2.2"/>
<line x1="99.60" y1="810.90" x2="112.60" y2="810.90" stroke="#262626" stroke-width="2.2"/>
<line x1="106.40" y1="781.82" x2="112.60" y2="781.82" stroke="#262626" stroke-width="2.2"/>
<line x1="99.60" y1="752.75" x2="112.60" y2="752.75" stroke="#262626" stroke-width="2.2"/>
<line x1="106.40" y1="723.67" x2="112.60" y2="723.67" stroke="#262626" stroke-width="2.2"/>
<line x1="99.60" y1="694.60" x2="112.60" y2="694.60" stroke="#262626" stroke-width="2.2"/>
<line x1="106.40" y1="665.52" x2="112.60" y2="665.52" stroke="#262626" stroke-width="2.2"/>
<text transform="translate(91.8,1285.0) scale(0.935,1)" font-size="28.3" text-anchor="end" stroke="#000" stroke-width="0.55" xml:space="preserve">0.0</text>
<text transform="translate(91.8,1226.8) scale(0.935,1)" font-size="28.3" text-anchor="end" stroke="#000" stroke-width="0.55" xml:space="preserve">0.1</text>
<text transform="translate(91.8,1168.7) scale(0.935,1)" font-size="28.3" text-anchor="end" stroke="#000" stroke-width="0.55" xml:space="preserve">0.2</text>
<text transform="translate(91.8,1110.5) scale(0.935,1)" font-size="28.3" text-anchor="end" stroke="#000" stroke-width="0.55" xml:space="preserve">0.3</text>
<text transform="translate(91.8,1052.4) scale(0.935,1)" font-size="28.3" text-anchor="end" stroke="#000" stroke-width="0.55" xml:space="preserve">0.4</text>
<text transform="translate(91.8,994.2) scale(0.935,1)" font-size="28.3" text-anchor="end" stroke="#000" stroke-width="0.55" xml:space="preserve">0.5</text>
<text transform="translate(91.8,936.1) scale(0.935,1)" font-size="28.3" text-anchor="end" stroke="#000" stroke-width="0.55" xml:space="preserve">0.6</text>
<text transform="translate(91.8,877.9) scale(0.935,1)" font-size="28.3" text-anchor="end" stroke="#000" stroke-width="0.55" xml:space="preserve">0.7</text>
<text transform="translate(91.8,819.8) scale(0.935,1)" font-size="28.3" text-anchor="end" stroke="#000" stroke-width="0.55" xml:space="preserve">0.8</text>
<text transform="translate(91.8,761.6) scale(0.935,1)" font-size="28.3" text-anchor="end" stroke="#000" stroke-width="0.55" xml:space="preserve">0.9</text>
<text transform="translate(91.8,703.5) scale(0.935,1)" font-size="28.3" text-anchor="end" stroke="#000" stroke-width="0.55" xml:space="preserve">1.0</text>
<text transform="translate(91.8,645.3) scale(0.935,1)" font-size="28.3" text-anchor="end" stroke="#000" stroke-width="0.55" xml:space="preserve">1.1</text>
<line x1="182.50" y1="1263.50" x2="182.50" y2="1275.00" stroke="#262626" stroke-width="2.2"/>
<line x1="252.56" y1="1269.50" x2="252.56" y2="1275.00" stroke="#262626" stroke-width="2.2"/>
<line x1="322.62" y1="1263.50" x2="322.62" y2="1275.00" stroke="#262626" stroke-width="2.2"/>
<line x1="392.69" y1="1269.50" x2="392.69" y2="1275.00" stroke="#262626" stroke-width="2.2"/>
<line x1="462.75" y1="1263.50" x2="462.75" y2="1275.00" stroke="#262626" stroke-width="2.2"/>
<line x1="532.81" y1="1269.50" x2="532.81" y2="1275.00" stroke="#262626" stroke-width="2.2"/>
<line x1="602.88" y1="1263.50" x2="602.88" y2="1275.00" stroke="#262626" stroke-width="2.2"/>
<line x1="672.94" y1="1269.50" x2="672.94" y2="1275.00" stroke="#262626" stroke-width="2.2"/>
<line x1="743.00" y1="1263.50" x2="743.00" y2="1275.00" stroke="#262626" stroke-width="2.2"/>
<line x1="813.06" y1="1269.50" x2="813.06" y2="1275.00" stroke="#262626" stroke-width="2.2"/>
<line x1="112.70" y1="1275.00" x2="112.70" y2="1914.70" stroke="#0c0c0c" stroke-width="2.8"/>
<line x1="882.90" y1="1275.00" x2="882.90" y2="1914.70" stroke="#bdbdbd" stroke-width="2.2"/>
<line x1="884.55" y1="1275.00" x2="884.55" y2="1914.70" stroke="#151515" stroke-width="1.5"/>
<line x1="99.50" y1="1275.00" x2="885.30" y2="1275.00" stroke="#949494" stroke-width="5.6"/>
<line x1="99.50" y1="1275.05" x2="885.30" y2="1275.05" stroke="#000000" stroke-width="2.0"/>
<line x1="105.80" y1="1913.00" x2="885.30" y2="1913.00" stroke="#5e5e5e" stroke-width="3.5"/>
<line x1="100.00" y1="1872.50" x2="113.00" y2="1872.50" stroke="#262626" stroke-width="2.2"/>
<line x1="106.80" y1="1832.62" x2="113.00" y2="1832.62" stroke="#262626" stroke-width="2.2"/>
<line x1="100.00" y1="1792.75" x2="113.00" y2="1792.75" stroke="#262626" stroke-width="2.2"/>
<line x1="106.80" y1="1752.88" x2="113.00" y2="1752.88" stroke="#262626" stroke-width="2.2"/>
<line x1="100.00" y1="1713.00" x2="113.00" y2="1713.00" stroke="#262626" stroke-width="2.2"/>
<line x1="106.80" y1="1673.12" x2="113.00" y2="1673.12" stroke="#262626" stroke-width="2.2"/>
<line x1="100.00" y1="1633.25" x2="113.00" y2="1633.25" stroke="#262626" stroke-width="2.2"/>
<line x1="106.80" y1="1593.38" x2="113.00" y2="1593.38" stroke="#262626" stroke-width="2.2"/>
<line x1="100.00" y1="1553.50" x2="113.00" y2="1553.50" stroke="#262626" stroke-width="2.2"/>
<line x1="106.80" y1="1513.62" x2="113.00" y2="1513.62" stroke="#262626" stroke-width="2.2"/>
<line x1="100.00" y1="1473.75" x2="113.00" y2="1473.75" stroke="#262626" stroke-width="2.2"/>
<line x1="106.80" y1="1433.88" x2="113.00" y2="1433.88" stroke="#262626" stroke-width="2.2"/>
<line x1="100.00" y1="1394.00" x2="113.00" y2="1394.00" stroke="#262626" stroke-width="2.2"/>
<line x1="106.80" y1="1354.12" x2="113.00" y2="1354.12" stroke="#262626" stroke-width="2.2"/>
<line x1="100.00" y1="1314.25" x2="113.00" y2="1314.25" stroke="#262626" stroke-width="2.2"/>
<text transform="translate(91.8,1881.4) scale(0.935,1)" font-size="28.3" text-anchor="end" stroke="#000" stroke-width="0.55" xml:space="preserve">0.04</text>
<text transform="translate(91.8,1801.6) scale(0.935,1)" font-size="28.3" text-anchor="end" stroke="#000" stroke-width="0.55" xml:space="preserve">0.06</text>
<text transform="translate(91.8,1721.9) scale(0.935,1)" font-size="28.3" text-anchor="end" stroke="#000" stroke-width="0.55" xml:space="preserve">0.08</text>
<text transform="translate(91.8,1642.1) scale(0.935,1)" font-size="28.3" text-anchor="end" stroke="#000" stroke-width="0.55" xml:space="preserve">0.10</text>
<text transform="translate(91.8,1562.4) scale(0.935,1)" font-size="28.3" text-anchor="end" stroke="#000" stroke-width="0.55" xml:space="preserve">0.12</text>
<text transform="translate(91.8,1482.6) scale(0.935,1)" font-size="28.3" text-anchor="end" stroke="#000" stroke-width="0.55" xml:space="preserve">0.14</text>
<text transform="translate(91.8,1402.9) scale(0.935,1)" font-size="28.3" text-anchor="end" stroke="#000" stroke-width="0.55" xml:space="preserve">0.16</text>
<text transform="translate(91.8,1323.1) scale(0.935,1)" font-size="28.3" text-anchor="end" stroke="#000" stroke-width="0.55" xml:space="preserve">0.18</text>
<line x1="183.30" y1="1900.00" x2="183.30" y2="1913.00" stroke="#262626" stroke-width="2.2"/>
<line x1="253.33" y1="1907.00" x2="253.33" y2="1913.00" stroke="#262626" stroke-width="2.2"/>
<line x1="323.35" y1="1900.00" x2="323.35" y2="1913.00" stroke="#262626" stroke-width="2.2"/>
<line x1="393.38" y1="1907.00" x2="393.38" y2="1913.00" stroke="#262626" stroke-width="2.2"/>
<line x1="463.40" y1="1900.00" x2="463.40" y2="1913.00" stroke="#262626" stroke-width="2.2"/>
<line x1="533.42" y1="1907.00" x2="533.42" y2="1913.00" stroke="#262626" stroke-width="2.2"/>
<line x1="603.45" y1="1900.00" x2="603.45" y2="1913.00" stroke="#262626" stroke-width="2.2"/>
<line x1="673.48" y1="1907.00" x2="673.48" y2="1913.00" stroke="#262626" stroke-width="2.2"/>
<line x1="743.50" y1="1900.00" x2="743.50" y2="1913.00" stroke="#262626" stroke-width="2.2"/>
<line x1="813.53" y1="1907.00" x2="813.53" y2="1913.00" stroke="#262626" stroke-width="2.2"/>
<text transform="translate(183.0,1948.7) scale(0.905,1)" font-size="28.3" text-anchor="middle" stroke="#000" stroke-width="0.55" xml:space="preserve">0</text>
<text transform="translate(323.0,1948.7) scale(0.905,1)" font-size="28.3" text-anchor="middle" stroke="#000" stroke-width="0.55" xml:space="preserve">50</text>
<text transform="translate(464.8,1948.7) scale(0.905,1)" font-size="28.3" text-anchor="middle" stroke="#000" stroke-width="0.55" xml:space="preserve">100</text>
<text transform="translate(603.7,1948.7) scale(0.905,1)" font-size="28.3" text-anchor="middle" stroke="#000" stroke-width="0.55" xml:space="preserve">150</text>
<text transform="translate(744.4,1948.7) scale(0.905,1)" font-size="28.3" text-anchor="middle" stroke="#000" stroke-width="0.55" xml:space="preserve">200</text>
<text transform="translate(884.8,1948.7) scale(0.905,1)" font-size="28.3" text-anchor="middle" stroke="#000" stroke-width="0.55" xml:space="preserve">250</text>
<text transform="translate(525.8,1979.5) scale(1.0,1)" font-size="33" text-anchor="middle" stroke="#000" stroke-width="0.55" xml:space="preserve">Temperature(<tspan font-family="'Noto Serif CJK SC', 'Noto Sans CJK SC', serif" stroke-width="0.2">℃</tspan>)</text>
<text transform="translate(59.5,317.0) rotate(-90) scale(0.97,1)" font-size="33" text-anchor="middle" stroke="#000" stroke-width="0.55" xml:space="preserve">E'(Pa)</text>
<text transform="translate(43.0,962.3) rotate(-90) scale(0.995,1)" font-size="33" text-anchor="middle" stroke="#000" stroke-width="0.55" xml:space="preserve">E''(Pa)</text>
<text transform="translate(30.3,1586.0) rotate(-90) scale(0.97,1)" font-size="33" text-anchor="middle" stroke="#000" stroke-width="0.55" xml:space="preserve">tanδ</text>
<rect x="702.9" y="467.6" width="163.9" height="3.0" fill="#c2c2c2"/>
<rect x="703.9" y="284.5" width="161.9" height="183.1" fill="#fff" stroke="#878787" stroke-width="1.9"/>
<line x1="705.8" y1="304.3" x2="774.5" y2="304.3" stroke="#000000" stroke-width="2.9"/>
<text transform="translate(779.8,314.1) scale(0.95,1)" font-size="31" text-anchor="start" stroke="#000" stroke-width="0.6" xml:space="preserve">0a</text>
<line x1="705.8" y1="340.5" x2="774.5" y2="340.5" stroke="#ff0000" stroke-width="2.9"/>
<text transform="translate(779.8,350.3) scale(0.95,1)" font-size="31" text-anchor="start" stroke="#000" stroke-width="0.6" xml:space="preserve">10a h</text>
<line x1="705.8" y1="376.7" x2="774.5" y2="376.7" stroke="#00ff00" stroke-width="2.9"/>
<text transform="translate(779.8,386.5) scale(0.95,1)" font-size="31" text-anchor="start" stroke="#000" stroke-width="0.6" xml:space="preserve">10a m</text>
<line x1="705.8" y1="412.7" x2="774.5" y2="412.7" stroke="#0000ff" stroke-width="2.9"/>
<text transform="translate(779.8,422.5) scale(0.95,1)" font-size="31" text-anchor="start" stroke="#000" stroke-width="0.6" xml:space="preserve">20a h</text>
<line x1="705.8" y1="448.7" x2="774.5" y2="448.7" stroke="#ff00ff" stroke-width="2.9"/>
<text transform="translate(779.8,458.5) scale(0.95,1)" font-size="31" text-anchor="start" stroke="#000" stroke-width="0.6" xml:space="preserve">20a m</text>
<rect x="679.1" y="751.0" width="172.2" height="2.6" fill="#c6c6c6"/>
<rect x="680.1" y="752.6" width="170.2" height="196.2" fill="#fff" stroke="#878787" stroke-width="1.9"/>
<line x1="683.0" y1="773.2" x2="755" y2="773.2" stroke="#000000" stroke-width="4.0"/>
<text transform="translate(760.8,783.7) scale(0.95,1)" font-size="33" text-anchor="start" stroke="#000" stroke-width="0.6" xml:space="preserve">0a</text>
<line x1="683.0" y1="811.8" x2="755" y2="811.8" stroke="#ff0000" stroke-width="4.0"/>
<text transform="translate(760.8,822.3) scale(0.95,1)" font-size="33" text-anchor="start" stroke="#000" stroke-width="0.6" xml:space="preserve">10a h</text>
<line x1="683.0" y1="850.2" x2="755" y2="850.2" stroke="#00ff00" stroke-width="4.0"/>
<text transform="translate(760.8,860.7) scale(0.95,1)" font-size="33" text-anchor="start" stroke="#000" stroke-width="0.6" xml:space="preserve">10a m</text>
<line x1="683.0" y1="888.7" x2="755" y2="888.7" stroke="#0000ff" stroke-width="4.0"/>
<text transform="translate(760.8,899.2) scale(0.95,1)" font-size="33" text-anchor="start" stroke="#000" stroke-width="0.6" xml:space="preserve">20a h</text>
<line x1="683.0" y1="926.8" x2="755" y2="926.8" stroke="#ff00ff" stroke-width="4.0"/>
<text transform="translate(760.8,937.3) scale(0.95,1)" font-size="33" text-anchor="start" stroke="#000" stroke-width="0.6" xml:space="preserve">20a m</text>
<rect x="700.7" y="1596.6" width="171.7" height="3.0" fill="#cdcdcd"/>
<rect x="698.9" y="1400.5" width="2.8" height="197.1" fill="#d2d2d2"/>
<rect x="701.7" y="1401.5" width="169.7" height="195.1" fill="#fff" stroke="#878787" stroke-width="1.9"/>
<line x1="704.6" y1="1422.7" x2="775.5" y2="1422.7" stroke="#000000" stroke-width="4.3"/>
<text transform="translate(781.8,1433.0) scale(0.95,1)" font-size="32.5" text-anchor="start" stroke="#000" stroke-width="0.6" xml:space="preserve">0a</text>
<line x1="704.6" y1="1461.3" x2="775.5" y2="1461.3" stroke="#ff0000" stroke-width="4.3"/>
<text transform="translate(781.8,1471.6) scale(0.95,1)" font-size="32.5" text-anchor="start" stroke="#000" stroke-width="0.6" xml:space="preserve">10a h</text>
<line x1="704.6" y1="1499.5" x2="775.5" y2="1499.5" stroke="#00ff00" stroke-width="4.3"/>
<text transform="translate(781.8,1509.8) scale(0.95,1)" font-size="32.5" text-anchor="start" stroke="#000" stroke-width="0.6" xml:space="preserve">10a m</text>
<line x1="704.6" y1="1537.9" x2="775.5" y2="1537.9" stroke="#0000ff" stroke-width="4.3"/>
<text transform="translate(781.8,1548.2) scale(0.95,1)" font-size="32.5" text-anchor="start" stroke="#000" stroke-width="0.6" xml:space="preserve">20a h</text>
<line x1="704.6" y1="1576.3" x2="775.5" y2="1576.3" stroke="#ff00ff" stroke-width="4.3"/>
<text transform="translate(781.8,1586.6) scale(0.95,1)" font-size="32.5" text-anchor="start" stroke="#000" stroke-width="0.6" xml:space="preserve">20a m</text>
</svg>
</body></html>
